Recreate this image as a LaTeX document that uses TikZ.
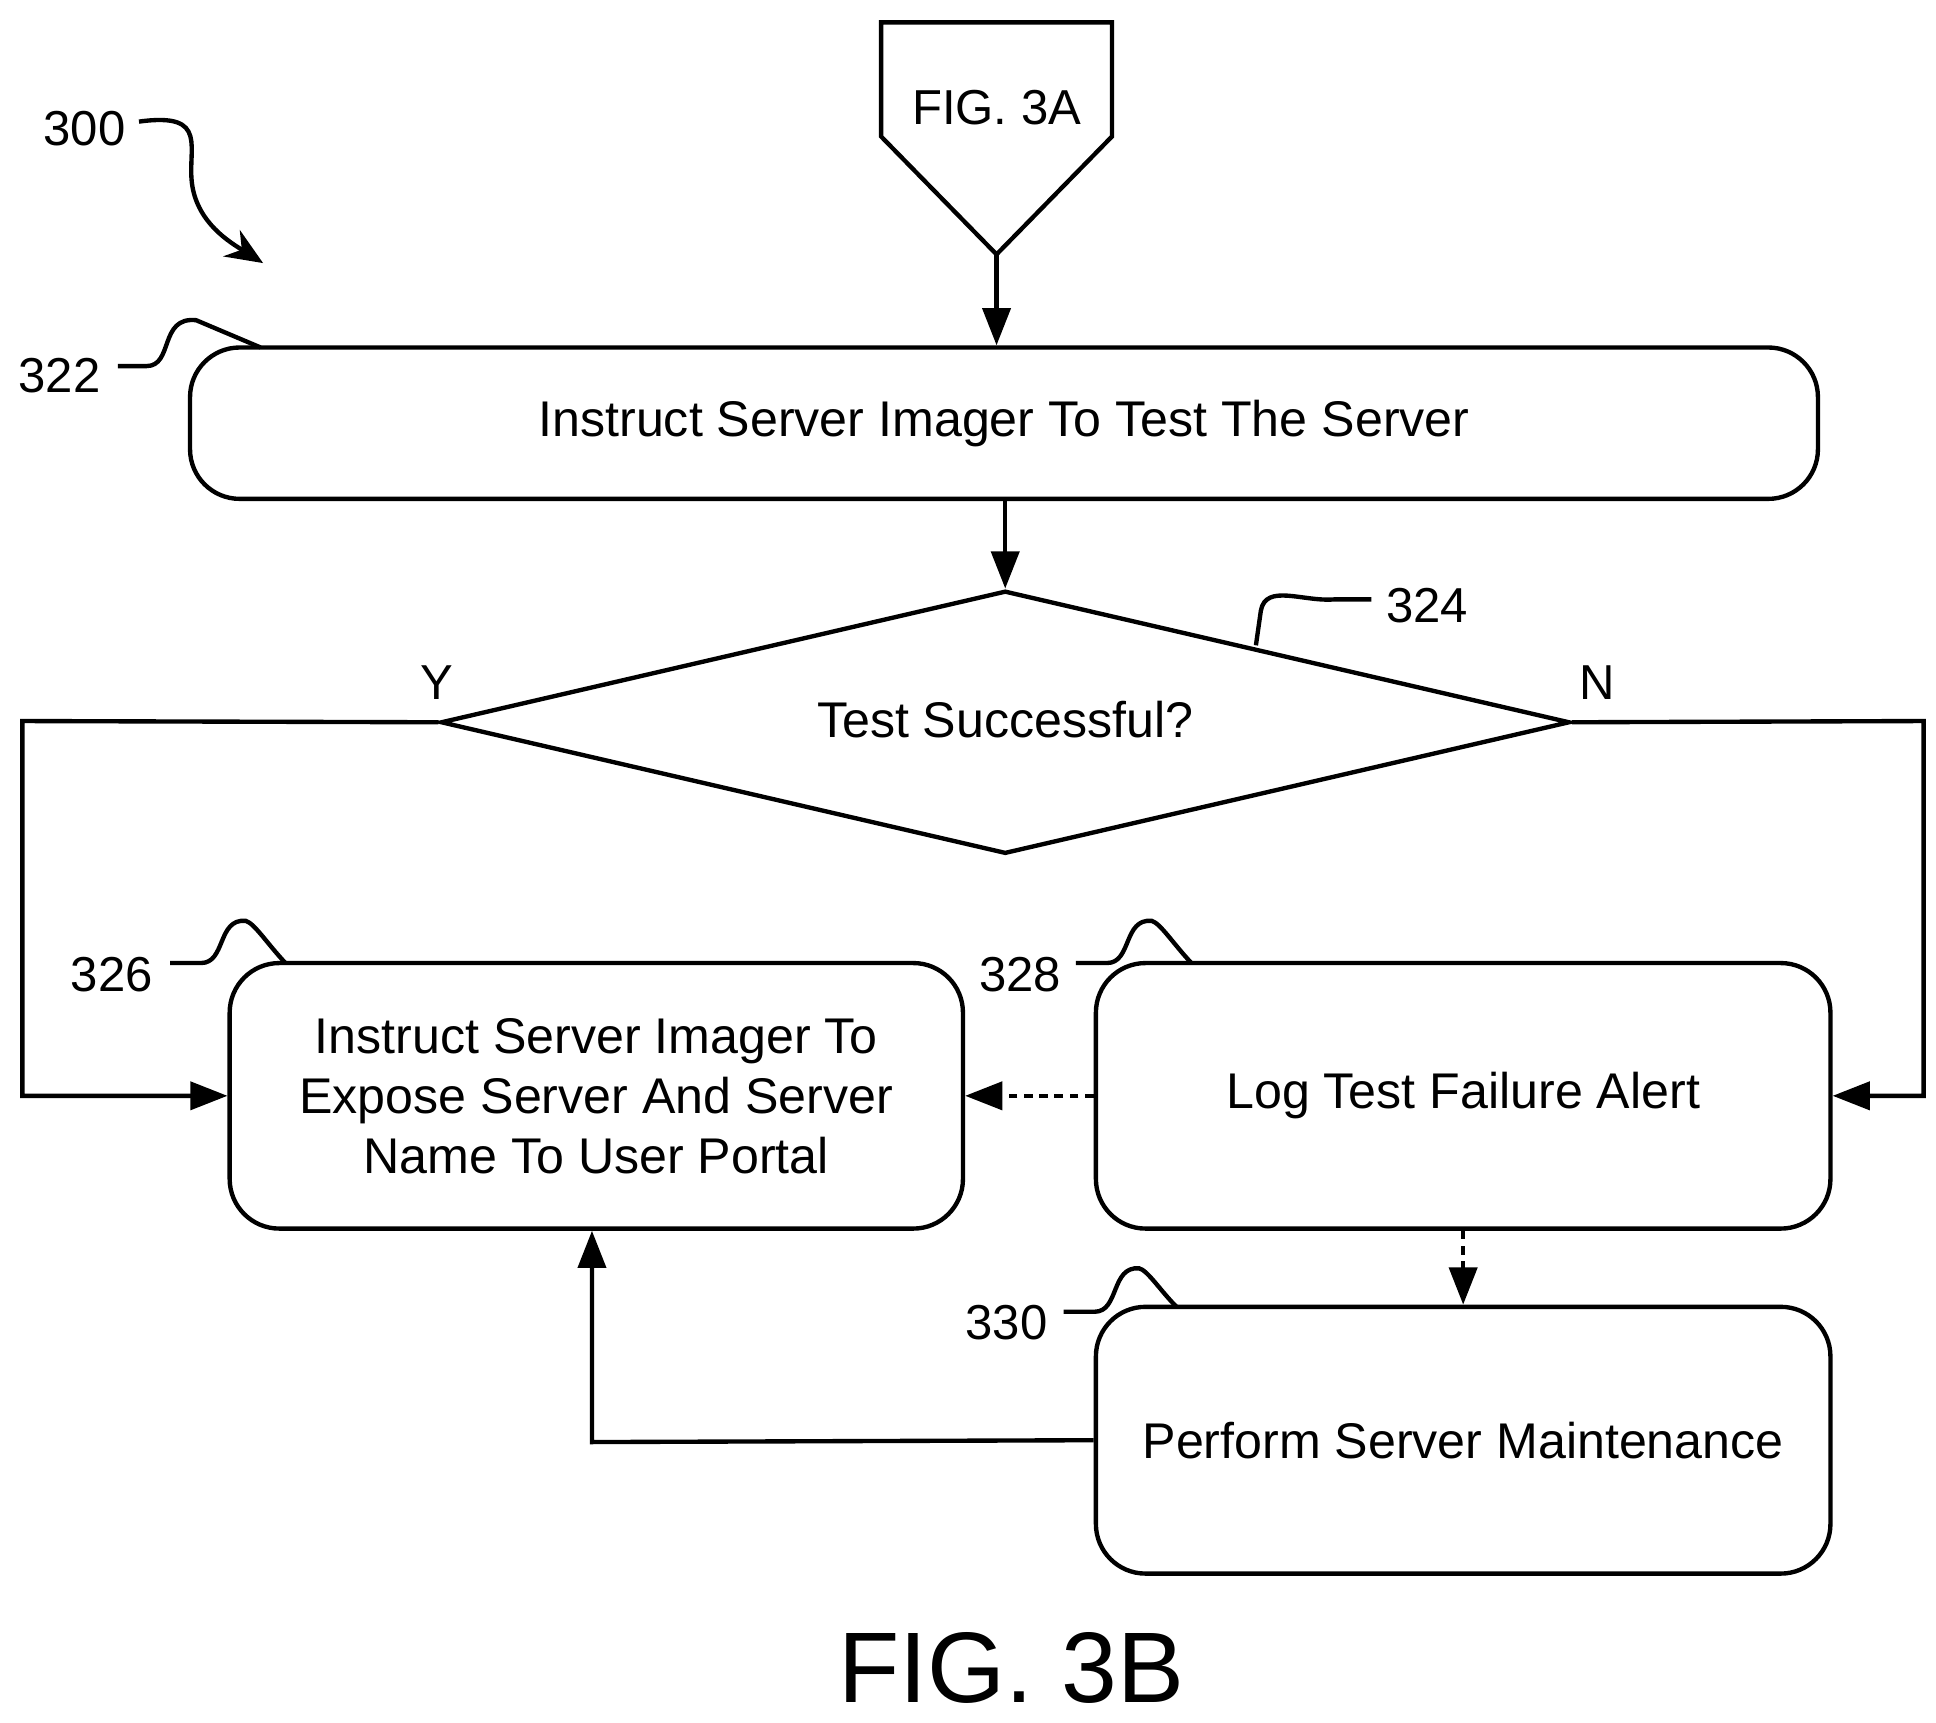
\documentclass[tikz,border=0pt]{standalone}
\usepackage{fontspec}
\setmainfont{Liberation Sans}
\usetikzlibrary{arrows.meta,shapes.geometric}
\begin{document}
\begin{tikzpicture}[x=0.02cm,y=-0.02cm,line width=2pt,
  box/.style={draw,rounded corners=0.8cm,inner sep=0pt,align=center,font=\fontsize{23}{27.5}\selectfont},
  lbl/.style={font=\fontsize{22.5}{26}\selectfont},
  arr/.style={-{Triangle[length=0.6cm,width=0.45cm]}},
  darr/.style={arr,dashed,dash pattern=on 4pt off 3pt}]
\useasboundingbox (0,0) rectangle (1560,1388);
% off-page connector
\draw (710,18) -- (896,18) -- (896,110) -- (803,205) -- (710,110) -- cycle;
\node[lbl] (f3a) at (803,87) {FIG. 3A};
\coordinate (offp) at (803,205);
\node[box,minimum width=26.24cm,minimum height=2.44cm] (b322) at (809,341) {Instruct Server Imager To Test The Server};
\node[draw,diamond,aspect=4.3,inner sep=0pt,minimum width=18.2cm,minimum height=4.24cm] (d324) at (810,582) {};
\node[box,draw=none] at (810,580) {Test Successful?};
\node[box,minimum width=11.82cm,minimum height=4.28cm] (b326) at (480.5,883) {Instruct Server Imager To\\Expose Server And Server\\Name To User Portal};
\node[box,minimum width=11.84cm,minimum height=4.28cm] (b328) at (1179,883) {Log Test Failure Alert};
\node[box,minimum width=11.84cm,minimum height=4.3cm] (b330) at (1179,1160.5) {Perform Server Maintenance};
\node[lbl] (ly) at (352,550) {Y};
\node[lbl] (ln) at (1287,550) {N};
\node[font=\fontsize{46}{52}\selectfont] (cap) at (815,1344) {FIG. 3B};
% connectors
\draw[arr] (offp) -- (b322.north -| offp);
\draw[arr] (810,402) -- (d324.north);
\draw[arr] (d324.west) -- (18,581) -- (18,883) -- (b326.west);
\draw[arr] (d324.east) -- (1550,581) -- (1550,883) -- (b328.east);
\draw[darr] (b328.west) -- (b326.east);
\draw[darr] (b328.south) -- (b330.north);
\draw[arr] (b330.west) -- (477,1162) -- (b326.south -| 477,0);
% reference labels
\node[lbl] (r300) at (68,104) {300};
\draw[-{Stealth[length=0.6cm,width=0.5cm]}] (112,98) .. controls (170,90) and (150,120) .. (155,150) .. controls (160,180) and (185,195) .. (212,212);
\node[lbl] (r322) at (48,303) {322};
\draw (95,295) -- (118,295) .. controls (140,295) and (128,255) .. (158,258) -- (210,280);
\node[lbl] (r324) at (1150,488) {324};
\draw (1012,520) -- (1016,492) .. controls (1020,470) and (1050,485) .. (1075,483) -- (1105,483);
\node[lbl] (r326) at (90,785) {326};
\draw (137,776) -- (162,776) .. controls (182,776) and (175,740) .. (198,742) .. controls (205,744) and (215,760) .. (230,776);
\node[lbl] (r328) at (822,785) {328};
\draw (867,776) -- (892,776) .. controls (912,776) and (905,740) .. (928,742) .. controls (935,744) and (945,760) .. (960,776);
\node[lbl] (r330) at (811,1066) {330};
\draw (857,1057) -- (882,1057) .. controls (902,1057) and (895,1020) .. (918,1022) .. controls (925,1024) and (935,1040) .. (948,1053);
\end{tikzpicture}
\end{document}
